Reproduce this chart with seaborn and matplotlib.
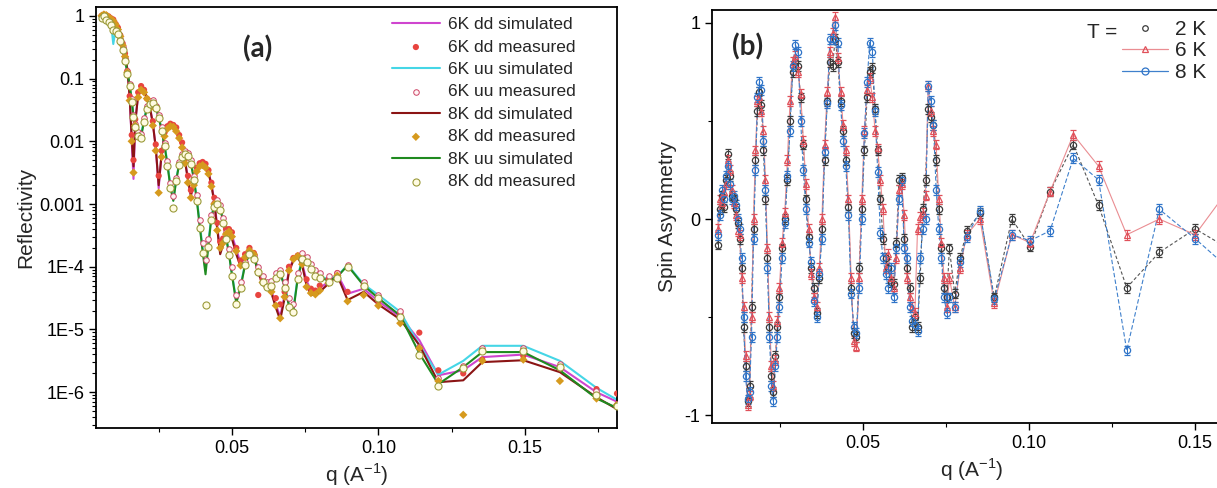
"""
Neutron reflectivity (a) and spin asymmetry (b) versus q.
"""
import matplotlib
matplotlib.use("Agg")
import matplotlib.pyplot as plt
from matplotlib.lines import Line2D
from matplotlib.ticker import (FixedLocator, FixedFormatter, MultipleLocator,
                               LogLocator, NullFormatter, FormatStrFormatter)
import seaborn as sns

# ---------------- panel (a): reflectivity, values stored as log10(R) ----------------
q_a = [0.0055, 0.0063, 0.0071, 0.0079, 0.0087, 0.0095, 0.0103, 0.0111, 0.0119, 0.0127,
       0.0135, 0.0143, 0.0151, 0.0158, 0.0164,
       0.017, 0.018, 0.019, 0.020, 0.021, 0.022, 0.023, 0.024, 0.025, 0.026,
       0.027, 0.028, 0.029, 0.030, 0.031, 0.032, 0.033, 0.034, 0.035, 0.036,
       0.037, 0.038, 0.039, 0.040, 0.041, 0.042, 0.043, 0.044, 0.045, 0.046,
       0.047, 0.048, 0.049, 0.050,
       0.0515, 0.053, 0.0545, 0.056, 0.0575, 0.059, 0.0605, 0.062, 0.0635, 0.065,
       0.0665, 0.068, 0.0695, 0.071, 0.0725, 0.074, 0.0755, 0.077, 0.0785, 0.080,
       0.083, 0.086, 0.0895, 0.095, 0.100, 0.1075, 0.114, 0.1205, 0.129, 0.1355,
       0.1495, 0.162, 0.1745, 0.1815]

log_r_6k_dd_sim = [
    -0.02, 0.01, 0.02, 0.0, -0.03, -0.07, -0.12, -0.2, -0.3, -0.45,
    -0.62, -0.85, -1.3, -2.0, -2.6,
    -1.7, -1.25, -1.15, -1.2, -1.3, -1.45, -1.7, -2.1, -2.75, -2.2,
    -1.9, -1.78, -1.74, -1.75, -1.8, -1.92, -2.05, -2.3, -2.6, -2.88,
    -2.65, -2.45, -2.37, -2.35, -2.38, -2.48, -2.68, -2.95, -3.35, -3.75,
    -3.6, -3.45, -3.42, -3.5,
    -3.72, -3.95, -3.82, -3.72, -3.8, -4.05, -4.22, -4.3, -4.38, -4.6,
    -4.8, -4.45, -4.05, -3.88, -3.84, -3.95, -4.22, -4.38, -4.4, -4.34,
    -4.24, -4.12, -4.43, -4.35, -4.55, -4.8, -5.17, -5.73, -5.65, -5.44,
    -5.4, -5.6, -6.0, -6.15]

log_r_6k_dd_meas = [
    0.0, 0.02, 0.01, -0.01, -0.04, -0.06, -0.13, -0.19, -0.31, -0.44,
    -0.6, -0.88, -1.28, -1.9, -2.3,
    -1.65, -1.22, -1.12, -1.18, -1.32, -1.44, -1.68, -2.05, -2.55, -2.15,
    -1.86, -1.76, -1.72, -1.74, -1.78, -1.9, -2.02, -2.28, -2.55, -2.78,
    -2.6, -2.42, -2.35, -2.33, -2.36, -2.46, -2.66, -2.9, -3.3, -3.6,
    -3.55, -3.4, -3.4, -3.45,
    -3.7, -3.9, -3.8, -3.7, -3.78, -4.45, -4.2, -4.28, -4.35, -4.5,
    -4.6, -4.4, -4.0, -3.86, -3.82, -3.92, -4.2, -4.35, -4.38, -4.3,
    -4.2, -4.1, -4.4, -4.3, -4.55, -4.75, -5.05, -5.65, -5.7, -5.48,
    -5.42, -5.62, -5.95, -6.02]

log_r_6k_uu_sim = [
    -0.02, 0.0, -0.02, -0.05, -0.1, -0.45, -0.22, -0.27, -0.38, -0.52,
    -0.7, -0.9, -1.1, -1.35, -1.6,
    -1.75, -1.88, -1.9, -1.65, -1.45, -1.38, -1.37, -1.45, -1.6, -1.8,
    -2.05, -2.35, -2.7, -2.93, -2.6, -2.35, -2.22, -2.18, -2.2, -2.33,
    -2.58, -2.9, -3.3, -3.7, -4.05, -3.6, -3.2, -3.0, -2.95, -3.05,
    -3.25, -3.5, -3.78, -4.1,
    -4.55, -4.3, -3.95, -3.8, -3.85, -4.05, -4.2, -4.3, -4.28, -4.15,
    -4.1, -4.3, -4.6, -4.67, -4.15, -3.88, -3.9, -4.0, -4.1, -4.15,
    -4.2, -4.15, -3.97, -4.28, -4.45, -4.72, -5.25, -5.72, -5.5, -5.26,
    -5.26, -5.5, -5.93, -6.12]

log_r_6k_uu_meas = [
    -0.03, 0.01, -0.03, -0.06, -0.12, -0.2, -0.23, -0.28, -0.37, -0.5,
    -0.68, -0.88, -1.08, -1.33, -1.58,
    -1.72, -1.86, -1.88, -1.63, -1.44, -1.36, -1.35, -1.44, -1.58, -1.78,
    -2.02, -2.32, -2.66, -2.88, -2.58, -2.33, -2.2, -2.16, -2.18, -2.3,
    -2.55, -2.85, -3.25, -3.62, -3.9, -3.55, -3.18, -2.98, -2.93, -3.02,
    -3.22, -3.45, -3.72, -4.0,
    -4.45, -4.25, -3.92, -3.76, -3.82, -4.0, -4.15, -4.25, -4.22, -4.1,
    -4.05, -4.25, -4.5, -4.6, -4.1, -3.78, -3.85, -3.95, -4.05, -4.1,
    -4.15, -4.1, -3.98, -4.25, -4.45, -4.7, -5.28, -5.78, -5.58, -5.3,
    -5.3, -5.55, -5.98, -6.18]

log_r_8k_dd_sim = [
    -0.02, 0.01, 0.02, 0.0, -0.03, -0.07, -0.12, -0.2, -0.3, -0.45,
    -0.62, -0.85, -1.3, -1.95, -2.4,
    -1.7, -1.26, -1.16, -1.2, -1.3, -1.46, -1.72, -2.1, -2.7, -2.2,
    -1.9, -1.79, -1.75, -1.76, -1.82, -1.93, -2.08, -2.32, -2.62, -2.86,
    -2.66, -2.46, -2.38, -2.36, -2.4, -2.5, -2.7, -2.98, -3.4, -3.8,
    -3.65, -3.5, -3.45, -3.55,
    -3.8, -4.0, -3.86, -3.75, -3.82, -4.1, -4.27, -4.35, -4.42, -4.65,
    -4.85, -4.5, -4.08, -3.9, -3.85, -3.98, -4.3, -4.45, -4.45, -4.4,
    -4.27, -4.14, -4.53, -4.4, -4.6, -4.84, -5.25, -5.84, -5.81, -5.52,
    -5.49, -5.68, -6.08, -6.27]

log_r_8k_dd_meas = [
    0.0, 0.02, 0.01, -0.02, -0.05, -0.08, -0.14, -0.22, -0.33, -0.47,
    -0.65, -0.9, -1.35, -2.0, -2.5,
    -1.75, -1.3, -1.18, -1.22, -1.32, -1.48, -1.75, -2.15, -2.82, -2.25,
    -1.92, -1.8, -1.76, -1.77, -1.84, -1.95, -2.1, -2.35, -2.66, -2.9,
    -2.7, -2.48, -2.4, -2.38, -2.42, -2.52, -2.72, -3.0, -3.42, -3.7,
    -3.62, -3.48, -3.44, -3.52,
    -3.75, -3.98, -3.85, -3.74, -3.8, -4.08, -4.25, -4.32, -4.4, -4.62,
    -4.82, -4.48, -4.06, -3.88, -3.83, -3.96, -4.32, -4.42, -4.44, -4.38,
    -4.26, -4.14, -4.55, -4.45, -4.62, -4.9, -5.3, -5.82, -6.36, -5.5,
    -5.48, -5.82, -6.1, -6.2]

log_r_8k_uu_sim = [
    -0.02, 0.0, -0.02, -0.05, -0.1, -0.18, -0.22, -0.27, -0.38, -0.52,
    -0.7, -0.9, -1.1, -1.35, -1.6,
    -1.76, -1.9, -1.93, -1.68, -1.47, -1.39, -1.38, -1.46, -1.62, -1.82,
    -2.07, -2.38, -2.73, -2.95, -2.62, -2.37, -2.24, -2.2, -2.22, -2.35,
    -2.6, -2.93, -3.35, -3.75, -4.12, -3.65, -3.22, -3.02, -2.97, -3.07,
    -3.27, -3.52, -3.8, -4.12,
    -4.58, -4.32, -3.97, -3.79, -3.86, -4.07, -4.22, -4.32, -4.3, -4.17,
    -4.1, -4.32, -4.62, -4.7, -4.18, -3.9, -3.92, -4.02, -4.12, -4.17,
    -4.22, -4.16, -3.98, -4.3, -4.5, -4.78, -5.38, -5.87, -5.6, -5.36,
    -5.36, -5.65, -6.1, -6.25]

log_r_8k_uu_meas = [
    -0.03, 0.0, -0.06, -0.1, -0.15, -0.22, -0.24, -0.29, -0.4, -0.55,
    -0.72, -0.92, -1.12, -1.37, -1.62,
    -1.78, -1.92, -1.95, -1.7, -1.48, -1.4, -1.39, -1.47, -1.63, -1.83,
    -2.08, -2.4, -2.75, -3.06, -2.64, -2.38, -2.25, -2.21, -2.24, -2.37,
    -2.62, -2.95, -3.38, -3.78, -4.61, -3.68, -3.25, -3.05, -3.0, -3.1,
    -3.3, -3.55, -3.82, -4.15,
    -4.6, -4.34, -3.98, -3.8, -3.88, -4.08, -4.24, -4.33, -4.3, -4.18,
    -4.12, -4.34, -4.64, -4.72, -4.2, -3.88, -3.93, -4.04, -4.14, -4.18,
    -4.24, -4.18, -4.0, -4.3, -4.5, -4.8, -5.4, -5.9, -5.62, -5.35,
    -5.35, -5.6, -6.05, -6.22]

refl_ticks = [1e-6, 1e-5, 1e-4, 1e-3, 1e-2, 1e-1, 1]
refl_tick_labels = ["1E-6", "1E-5", "1E-4", "0.001", "0.01", "0.1", "1"]

# ---------------- panel (b): spin asymmetry ----------------
q_b = [0.0062, 0.0068, 0.0074, 0.0080, 0.0086, 0.0092, 0.0098, 0.0104, 0.0110, 0.0116,
       0.0122, 0.0128, 0.0134, 0.0140, 0.0146, 0.0152, 0.0158, 0.0164, 0.0170, 0.0176,
       0.0182, 0.0188, 0.0194, 0.0200, 0.0206, 0.0212, 0.0218, 0.0224, 0.0230, 0.0236,
       0.0242, 0.0248, 0.0256, 0.0264, 0.0272, 0.0280, 0.0288, 0.0296, 0.0304, 0.0312,
       0.0320, 0.0328, 0.0336, 0.0344, 0.0352, 0.0360, 0.0368, 0.0376, 0.0384, 0.0392,
       0.0400, 0.0408, 0.0416, 0.0424, 0.0432, 0.0440, 0.0448, 0.0456, 0.0464, 0.0472,
       0.0480, 0.0488, 0.0496, 0.0504, 0.0512, 0.0520, 0.0528, 0.0536, 0.0544, 0.0552,
       0.0560, 0.0568, 0.0576, 0.0584, 0.0592, 0.0600, 0.0608, 0.0616, 0.0624, 0.0632,
       0.0640, 0.0648, 0.0656, 0.0664, 0.0672, 0.0680, 0.0688, 0.0696, 0.0704, 0.0712,
       0.0720, 0.0728, 0.0736, 0.0744, 0.0752, 0.0760, 0.0776, 0.0792, 0.0812, 0.0852,
       0.0895, 0.0948, 0.1003, 0.1063, 0.1133, 0.1209, 0.1294, 0.1392, 0.1500, 0.1600]

sa_2k = [-0.13, 0.05, 0.12, 0.06, 0.20, 0.33, 0.22, 0.12, 0.10, 0.05,
         -0.02, -0.10, -0.25, -0.55, -0.75, -0.93, -0.85, -0.45, -0.05, 0.30,
         0.55, 0.65, 0.58, 0.35, 0.10, -0.20, -0.55, -0.80, -0.88, -0.70,
         -0.55, -0.40, -0.15, 0.00, 0.20, 0.50, 0.75, 0.80, 0.78, 0.62,
         0.38, 0.10, -0.09, -0.25, -0.35, -0.48, -0.30, -0.05, 0.30, 0.60,
         0.80, 0.78, 0.92, 0.80, 0.60, 0.45, 0.30, 0.06, -0.35, -0.58,
         -0.60, -0.25, 0.05, 0.35, 0.62, 0.75, 0.77, 0.56, 0.35, 0.10,
         -0.10, -0.20, -0.25, -0.32, -0.33, -0.12, 0.20, 0.21, -0.10, -0.25,
         -0.35, -0.55, -0.50, -0.55, -0.30, 0.05, 0.20, 0.56, 0.52, 0.48,
         0.30, 0.05, -0.15, -0.35, -0.40, -0.15, -0.38, -0.20, -0.06, 0.03,
         -0.40, 0.00, -0.14, 0.14, 0.38, 0.07, -0.35, -0.17, -0.05, -0.15]

sa_6k = [-0.05, 0.10, 0.08, 0.14, 0.18, 0.30, 0.25, 0.15, 0.08, 0.02,
         -0.06, -0.08, -0.30, -0.45, -0.70, -0.95, -0.90, -0.50, 0.00, 0.35,
         0.60, 0.62, 0.55, 0.45, 0.20, -0.15, -0.50, -0.75, -0.85, -0.72,
         -0.52, -0.35, -0.12, 0.03, 0.30, 0.60, 0.80, 0.83, 0.75, 0.64,
         0.40, 0.18, -0.05, -0.28, -0.40, -0.45, -0.25, 0.00, 0.38, 0.65,
         0.85, 0.95, 1.03, 0.82, 0.65, 0.48, 0.35, 0.10, -0.30, -0.62,
         -0.65, -0.30, 0.10, 0.45, 0.66, 0.72, 0.62, 0.45, 0.36, 0.20,
         0.05, -0.25, -0.18, -0.30, -0.35, -0.20, 0.15, 0.18, 0.02, -0.30,
         -0.40, -0.45, -0.48, -0.05, 0.01, 0.03, 0.12, 0.68, 0.55, 0.45,
         0.38, 0.10, -0.12, -0.30, -0.45, -0.30, -0.45, -0.25, -0.08, 0.00,
         -0.43, -0.08, -0.12, 0.14, 0.43, 0.27, -0.08, 0.00, -0.08, 0.15]

sa_8k = [-0.08, 0.02, 0.15, 0.10, 0.22, 0.27, 0.18, 0.10, 0.12, 0.07,
         0.00, -0.05, -0.20, -0.50, -0.80, -0.92, -0.88, -0.60, -0.10, 0.25,
         0.62, 0.70, 0.66, 0.40, 0.15, -0.25, -0.60, -0.85, -0.93, -0.75,
         -0.60, -0.45, -0.20, -0.02, 0.22, 0.45, 0.78, 0.89, 0.85, 0.50,
         0.25, 0.05, -0.12, -0.22, -0.42, -0.50, -0.28, -0.10, 0.34, 0.59,
         0.92, 0.92, 0.99, 0.90, 0.58, 0.40, 0.27, 0.02, -0.38, -0.55,
         -0.58, -0.35, 0.00, 0.44, 0.70, 0.90, 0.85, 0.55, 0.24, -0.07,
         -0.20, -0.28, -0.35, -0.25, -0.40, -0.15, 0.10, 0.20, -0.15, -0.20,
         -0.45, -0.52, -0.54, -0.57, -0.20, -0.05, 0.00, 0.68, 0.60, 0.48,
         0.15, -0.05, -0.20, -0.40, -0.48, -0.40, -0.45, -0.22, -0.09, 0.04,
         -0.41, -0.08, -0.11, -0.06, 0.31, 0.20, -0.67, 0.05, -0.10, -0.25]

sa_err = 0.025
temp_labels = ["2 K", "6 K", "8 K"]

W, H = 1217, 488


def pow10(vals):
    return [10 ** v for v in vals]


def style_axis(ax):
    for sp in ax.spines.values():
        sp.set_visible(True)
        sp.set_linewidth(1.3)
        sp.set_color("black")
    ax.tick_params(which="both", direction="out", colors="black", labelsize=13,
                   top=False, right=False)
    ax.tick_params(which="major", length=5, width=1)
    ax.tick_params(which="minor", length=3, width=0.8)


sns.set_theme(style="ticks")
plt.rcParams["font.family"] = ["Liberation Sans", "DejaVu Sans"]
plt.rcParams["mathtext.fontset"] = "custom"
plt.rcParams["mathtext.rm"] = "Liberation Sans"

fig = plt.figure(figsize=(W / 100, H / 100), dpi=100)
ax_a = fig.add_axes([96 / W, (H - 428) / H, 521 / W, 421 / H])
ax_b = fig.add_axes([712 / W, (H - 423) / H, 520 / W, 413 / H])

# ---- panel (a)
ax_a.set_yscale("log")
series_a = [
    ("line", log_r_6k_dd_sim, "6K dd simulated", dict(color="#cf45cf")),
    ("dot", log_r_6k_dd_meas, "6K dd measured",
     dict(marker="o", s=20, color="#e8443f", edgecolor="none")),
    ("line", log_r_6k_uu_sim, "6K uu simulated", dict(color="#45d6e6")),
    ("dot", log_r_6k_uu_meas, "6K uu measured",
     dict(marker="o", s=16, facecolor="#fff4f4", edgecolor="#cc4466", linewidth=0.7)),
    ("line", log_r_8k_dd_sim, "8K dd simulated", dict(color="#8b1414")),
    ("dot", log_r_8k_dd_meas, "8K dd measured",
     dict(marker="D", s=18, color="#d69a1e", edgecolor="none")),
    ("line", log_r_8k_uu_sim, "8K uu simulated", dict(color="#1f8a1f")),
    ("dot", log_r_8k_uu_meas, "8K dd measured",
     dict(marker="o", s=26, facecolor="#fffbe2", edgecolor="#9a9a3a", linewidth=0.8)),
]
for kind, vals, label, kw in series_a:
    if kind == "line":
        sns.lineplot(x=q_a, y=pow10(vals), ax=ax_a, lw=1.5, sort=False,
                     estimator=None, label=label, zorder=2, **kw)
    else:
        sns.scatterplot(x=q_a, y=pow10(vals), ax=ax_a, label=label, zorder=3, **kw)

ax_a.set_xlim(0.0036, 0.1815)
ax_a.set_ylim(10 ** -6.57, 10 ** 0.14)
ax_a.yaxis.set_major_locator(FixedLocator(refl_ticks))
ax_a.yaxis.set_major_formatter(FixedFormatter(refl_tick_labels))
ax_a.yaxis.set_minor_locator(LogLocator(base=10, subs=range(2, 10), numticks=20))
ax_a.yaxis.set_minor_formatter(NullFormatter())
ax_a.xaxis.set_major_locator(MultipleLocator(0.05))
ax_a.xaxis.set_minor_locator(MultipleLocator(0.025))
ax_a.xaxis.set_major_formatter(FormatStrFormatter("%.2f"))
style_axis(ax_a)
ax_a.set_xlabel(r"q (A$^{\mathregular{-1}}$)", fontsize=15, labelpad=3)
ax_a.set_ylabel("Reflectivity", fontsize=15)
ax_a.yaxis.set_label_coords((35 - 96) / 521, 0.5)

h, l = ax_a.get_legend_handles_labels()
ax_a.legend(h, l, loc="upper left", bbox_to_anchor=(392 / W, 1 - 17 / H),
            bbox_transform=fig.transFigure, frameon=False, fontsize=12.5,
            handlelength=2.75, handletextpad=0.45, labelspacing=0.42,
            borderpad=0, borderaxespad=0, scatterpoints=1)
fig.text(258 / W, 1 - 49 / H, "(a)", ha="center", va="center", fontsize=20,
         fontweight="bold", family="Lato")

# ---- panel (b)
series_b = [
    (sa_2k, "#3c3c3c", "#555555", "o", (0, (3, 2))),
    (sa_6k, "#e0505a", "#ea8d92", "^", "-"),
    (sa_8k, "#2f74c8", "#3f80cc", "o", (0, (4, 2))),
]
for vals, mcol, lcol, mk, ls in series_b:
    sns.lineplot(x=q_b, y=vals, ax=ax_b, color=lcol, lw=0.8, sort=False,
                 estimator=None, linestyle=ls, zorder=2)
    ax_b.errorbar(q_b, vals, yerr=sa_err, fmt=mk, ms=4.5, mfc="none", mec=mcol,
                  mew=0.9, ecolor=mcol, elinewidth=0.7, capsize=2, capthick=0.7,
                  ls="none", zorder=3)

ax_b.set_xlim(0.0045, 0.1611)
ax_b.set_ylim(-1.04, 1.066)
ax_b.yaxis.set_major_locator(FixedLocator([-1, 0, 1]))
ax_b.yaxis.set_major_formatter(FixedFormatter(["-1", "0", "1"]))
ax_b.yaxis.set_minor_locator(FixedLocator([-0.5, 0.5]))
ax_b.xaxis.set_major_locator(MultipleLocator(0.05))
ax_b.xaxis.set_minor_locator(MultipleLocator(0.025))
ax_b.xaxis.set_major_formatter(FormatStrFormatter("%.2f"))
style_axis(ax_b)
ax_b.set_xlabel(r"q (A$^{\mathregular{-1}}$)", fontsize=15, labelpad=3)
ax_b.set_ylabel("Spin Asymmetry", fontsize=15)
ax_b.yaxis.set_label_coords((677 - 712) / 520, 0.5)

handles_b = [
    Line2D([], [], ls="none", marker="o", ms=4, mfc="none", mec="#3c3c3c", mew=0.9),
    Line2D([], [], color="#ea8d92", lw=0.9, marker="^", ms=5, mfc="none",
           mec="#e0505a", mew=0.9),
    Line2D([], [], color="#3f80cc", lw=0.9, marker="o", ms=5, mfc="none",
           mec="#2f74c8", mew=0.9),
]
ax_b.legend(handles_b, temp_labels, loc="upper left",
            bbox_to_anchor=(1122 / W, 1 - 20 / H), bbox_transform=fig.transFigure,
            frameon=False, fontsize=15, handlelength=2.2, handletextpad=0.35,
            labelspacing=0.12, borderpad=0, borderaxespad=0)
fig.text(1087 / W, 1 - 33 / H, "T =", ha="left", va="center", fontsize=15)
fig.text(748 / W, 1 - 47 / H, "(b)", ha="center", va="center", fontsize=20,
         fontweight="bold", family="Lato")

fig.savefig("out.png", dpi=100)
